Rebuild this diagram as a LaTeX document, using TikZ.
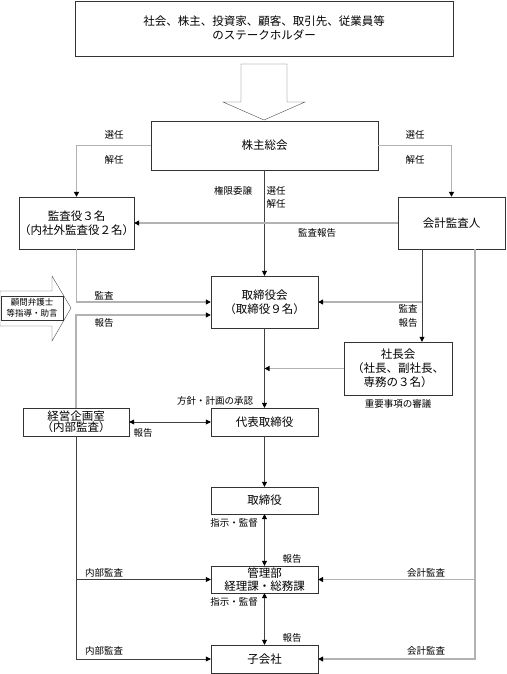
\documentclass[tikz,border=0pt]{standalone}
\usepackage{fontspec}
\setmainfont{Noto Sans CJK JP}
\usetikzlibrary{arrows.meta}
\tikzset{box/.style={draw=black!80,thin,align=center,inner sep=0pt,
		font=\fontsize{11.5}{14}\selectfont},
	lbl/.style={inner sep=0pt,font=\fontsize{9.5}{12}\selectfont},
	gline/.style={draw=black!30,line width=1.2pt},
	dline/.style={draw=black!75,line width=0.5pt},
	>={Triangle[black,width=5pt,length=5pt]}}
\begin{document}
\begin{tikzpicture}[x=1pt,y=-1pt]
		\useasboundingbox (0,0) rectangle (506,674);
		\begin{scope}[every node/.style={box}]
			\node[minimum width=378pt,minimum height=55pt] (stake) at (264,28.5) {社会、株主、投資家、顧客、取引先、従業員等\\のステークホルダー};
			\node[minimum width=227pt,minimum height=49pt] (soukai) at (264.5,145.5) {株主総会};
			\node[minimum width=107pt,minimum height=52pt] (kansayaku) at (76.5,223) {監査役３名\\（内社外監査役２名）};
			\node[minimum width=107pt,minimum height=52pt] (kaikei) at (451.5,223) {会計監査人};
			\node[minimum width=107pt,minimum height=52pt] (board) at (264.5,302) {取締役会\\（取締役９名）};
			\node[minimum width=108pt,minimum height=53pt] (shachokai) at (398,368.5) {社長会\\（社長、副社長、\\専務の３名）};
			\node[minimum width=106pt,minimum height=28pt,font=\fontsize{11.5}{11}\selectfont] (keiei) at (76,422) {経営企画室\\（内部監査）};
			\node[minimum width=107pt,minimum height=28pt] (daihyo) at (264.5,422) {代表取締役};
			\node[minimum width=107pt,minimum height=27pt] (tori) at (264.5,500.5) {取締役};
			\node[minimum width=107pt,minimum height=27pt,font=\fontsize{11.5}{13}\selectfont] (kanri) at (264.5,579.5) {管理部\\経理課・総務課};
			\node[minimum width=107pt,minimum height=28pt] (kogaisha) at (264.5,659) {子会社};
		\end{scope}
		% hollow arrows
		\draw[black!70] (241,64) -- (287,64) -- (287,102) -- (305,102) -- (264,120) -- (223,102) -- (241,102) -- cycle;
		\draw[black!70] (0,291) -- (52,291) -- (52,276) -- (71,308) -- (52,341) -- (52,326) -- (0,326) -- cycle;
		\node[draw=black!80,fill=white,align=center,inner sep=0pt,minimum width=62pt,minimum height=24pt,
			font=\fontsize{8.5}{11}\selectfont] (advisor) at (32,308) {顧問弁護士\\等指導・助言};
		\coordinate (split) at (422,302);
		\coordinate (rcorner) at (475,659);
		% connectors
		\draw[gline,->] (soukai.west) -| (kansayaku.north);
		\draw[gline,->] (soukai.east) -| (kaikei.north);
		\draw[dline,->] (soukai.south) -- (board.north);
		\draw[gline,->] (kaikei.west) -- (kaikei.west -| kansayaku.east);
		\draw[gline,->] (kansayaku.south) |- (board.west);
		\draw[gline,->] (keiei.north) |- ([yshift=-13pt]board.west);
		\draw[dline,->] (kaikei.south -| split) -- (split |- shachokai.north);
		\draw[gline,->] (split) -- (board.east);
		\draw[gline,->] (kaikei.south -| rcorner) |- (kogaisha.east);
		\draw[gline,->] (kanri.east -| rcorner) -- (kanri.east);
		\draw[gline,->] (shachokai.west) -- (shachokai.west -| board.south);
		\draw[dline,->] (board.south) -- (daihyo.north);
		\draw[dline,<->] (keiei.east) -- (daihyo.west);
		\draw[dline,->] (daihyo.south) -- (tori.north);
		\draw[dline,<->] (tori.south) -- (kanri.north);
		\draw[dline,<->] (kanri.south) -- (kogaisha.north);
		\draw[dline,->] (keiei.south) |- (kogaisha.west);
		\draw[dline,->] (keiei.south |- kanri.west) -- (kanri.west);
		% labels
		\begin{scope}[every node/.style={lbl}]
			\node (selL) at (114,135) {選任};
			\node (disL) at (114,160) {解任};
			\node (selR) at (415,135) {選任};
			\node (disR) at (415,160) {解任};
			\node (deleg) at (233,191) {権限委譲};
			\node (selC) at (276,191) {選任};
			\node (disC) at (276,204) {解任};
			\node (audrep) at (317,233) {監査報告};
			\node (audL) at (104,296) {監査};
			\node (repL) at (104,323) {報告};
			\node (audR) at (408,309) {監査};
			\node (repR) at (408,323) {報告};
			\node (policy) at (215,401) {方針・計画の承認};
			\node (repK) at (143,433) {報告};
			\node (review) at (398,404) {重要事項の審議};
			\node (instA) at (234,523) {指示・監督};
			\node (repA) at (292,559) {報告};
			\node (intA) at (104,573) {内部監査};
			\node (accA) at (426,573) {会計監査};
			\node (instB) at (234,602) {指示・監督};
			\node (repB) at (292,638) {報告};
			\node (intB) at (104,651) {内部監査};
			\node (accB) at (426,651) {会計監査};
		\end{scope}
	\end{tikzpicture}
\end{document}
